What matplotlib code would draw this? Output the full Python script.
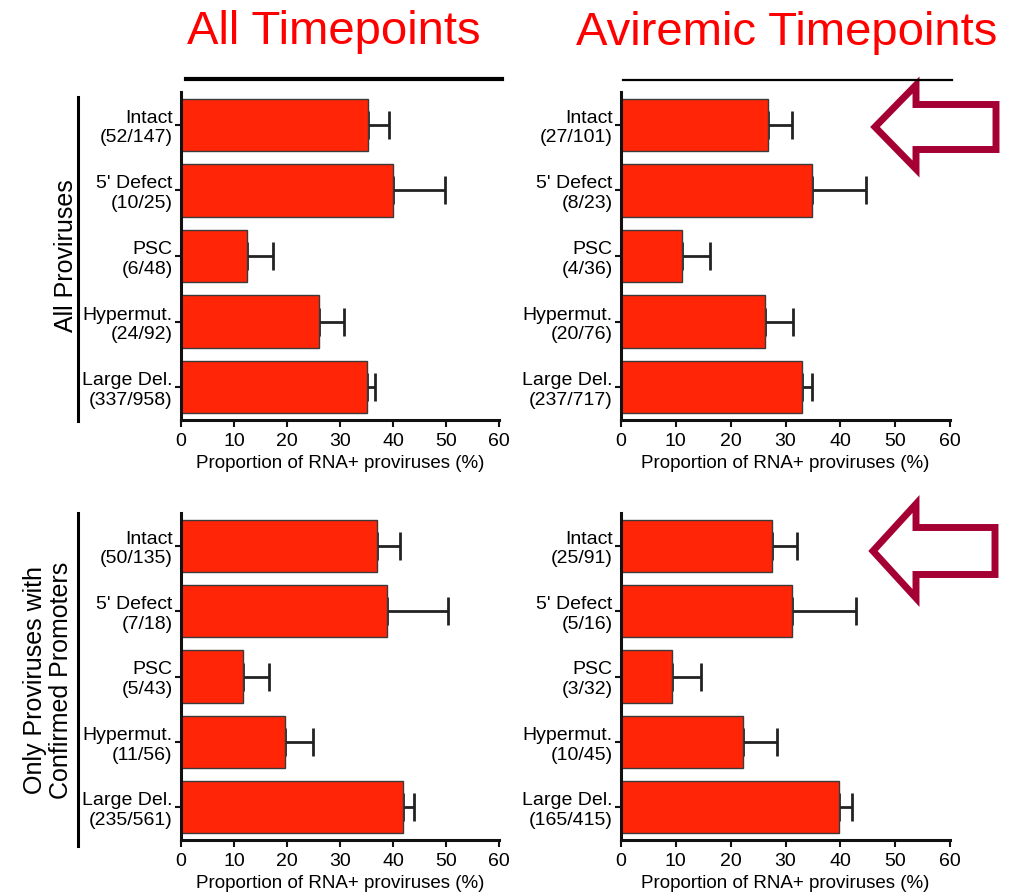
import numpy as np
import matplotlib.pyplot as plt
from matplotlib.patches import Polygon
from matplotlib.lines import Line2D

plt.rcParams["font.family"] = ["Liberation Sans", "DejaVu Sans"]

W, H = 1026, 892

categories = ["Intact", "5' Defect", "PSC", "Hypermut.", "Large Del."]

# RNA+ / total proviruses per category
all_pos = [52, 10, 6, 24, 337]
all_tot = [147, 25, 48, 92, 958]
avir_pos = [27, 8, 4, 20, 237]
avir_tot = [101, 23, 36, 76, 717]
prom_all_pos = [50, 7, 5, 11, 235]
prom_all_tot = [135, 18, 43, 56, 561]
prom_avir_pos = [25, 5, 3, 10, 165]
prom_avir_tot = [91, 16, 32, 45, 415]

# error bar lengths (%)
all_err = [3.9, 9.8, 4.8, 4.6, 1.5]
avir_err = [4.4, 9.9, 5.2, 5.0, 1.8]
prom_all_err = [4.2, 11.5, 4.9, 5.3, 2.1]
prom_avir_err = [4.7, 11.6, 5.2, 6.2, 2.4]

col_titles = ["All Timepoints", "Aviremic Timepoints"]
row_titles = ["All Proviruses", "Only Proviruses with\nConfirmed Promoters"]
xlabel = "Proportion of RNA+ proviruses (%)"
xticks = [0, 10, 20, 30, 40, 50, 60]

BAR = "#ff2506"
ARROW = "#a50034"


def px_axes(fig, left, top, right, bottom):
    return fig.add_axes([left / W, 1 - bottom / H, (right - left) / W, (bottom - top) / H])


def draw_panel(ax, pos, tot, err):
    pct = 100 * np.array(pos) / np.array(tot)
    y = np.arange(len(categories))
    ax.barh(y, pct, height=0.8, color=BAR, edgecolor="#3a3a3a", linewidth=1.0, zorder=2)
    ax.errorbar(pct, y, xerr=[np.zeros(len(err)), err], fmt="none", ecolor="#222222",
                elinewidth=2, capsize=10, capthick=2, zorder=1)
    ax.set_ylim(len(categories) - 0.5, -0.5)
    ax.set_xlim(0, 60)
    ax.set_xticks(xticks)
    ax.set_yticks(y)
    ax.set_yticklabels([f"{c}\n({p}/{t})" for c, p, t in zip(categories, pos, tot)],
                       fontsize=14, linespacing=1.2)
    ax.tick_params(axis="x", labelsize=14, length=5, width=1.5, pad=4, color="#111111")
    ax.tick_params(axis="y", length=4, width=1.5, pad=2, color="#111111")
    for s in ("top", "right"):
        ax.spines[s].set_visible(False)
    for s in ("left", "bottom"):
        ax.spines[s].set_linewidth(2.2)
        ax.spines[s].set_color("#111111")
    ax.set_xlabel(xlabel, fontsize=13.5, labelpad=4)


def arrow(fig, tip_x, tip_y, neck_x, end_x, head_h, shaft_h):
    pts = [(tip_x, tip_y), (neck_x, tip_y - head_h), (neck_x, tip_y - shaft_h),
           (end_x, tip_y - shaft_h), (end_x, tip_y + shaft_h), (neck_x, tip_y + shaft_h),
           (neck_x, tip_y + head_h)]
    pts = [(x / W, 1 - y / H) for x, y in pts]
    fig.patches.append(Polygon(pts, closed=True, fill=False, edgecolor=ARROW, linewidth=5,
                               joinstyle="miter", transform=fig.transFigure))


fig = plt.figure(figsize=(W / 100, H / 100), dpi=100)

ax1 = px_axes(fig, 181, 92, 499, 420)
ax2 = px_axes(fig, 621, 92, 950, 420)
ax3 = px_axes(fig, 181, 513, 499, 840)
ax4 = px_axes(fig, 621, 513, 950, 840)
draw_panel(ax1, all_pos, all_tot, all_err)
draw_panel(ax2, avir_pos, avir_tot, avir_err)
draw_panel(ax3, prom_all_pos, prom_all_tot, prom_all_err)
draw_panel(ax4, prom_avir_pos, prom_avir_tot, prom_avir_err)

# column headings and the rules beneath them
fig.text(334 / W, 1 - 44 / H, col_titles[0], color="red", fontsize=34, ha="center", va="baseline")
fig.text(787 / W, 1 - 45 / H, col_titles[1], color="red", fontsize=34, ha="center", va="baseline")
fig.add_artist(Line2D([186 / W, 502 / W], [1 - 79 / H] * 2, color="black", lw=3))
fig.add_artist(Line2D([623 / W, 952 / W], [1 - 80 / H] * 2, color="black", lw=1.6))

# row headings with vertical rules
fig.text(66 / W, 1 - 256 / H, row_titles[0], rotation=90, fontsize=18, ha="center", va="center")
fig.text(48 / W, 1 - 680 / H, row_titles[1], rotation=90, fontsize=18, ha="center", va="center",
         multialignment="center", linespacing=1.1)
fig.add_artist(Line2D([78 / W] * 2, [1 - 97 / H, 1 - 421 / H], color="black", lw=2.2))
fig.add_artist(Line2D([78 / W] * 2, [1 - 513 / H, 1 - 846 / H], color="black", lw=2.2))

arrow(fig, 875, 127, 916, 996, 42, 22.5)
arrow(fig, 873, 551, 916, 995, 47, 23.5)

fig.savefig("out.png", dpi=100)
